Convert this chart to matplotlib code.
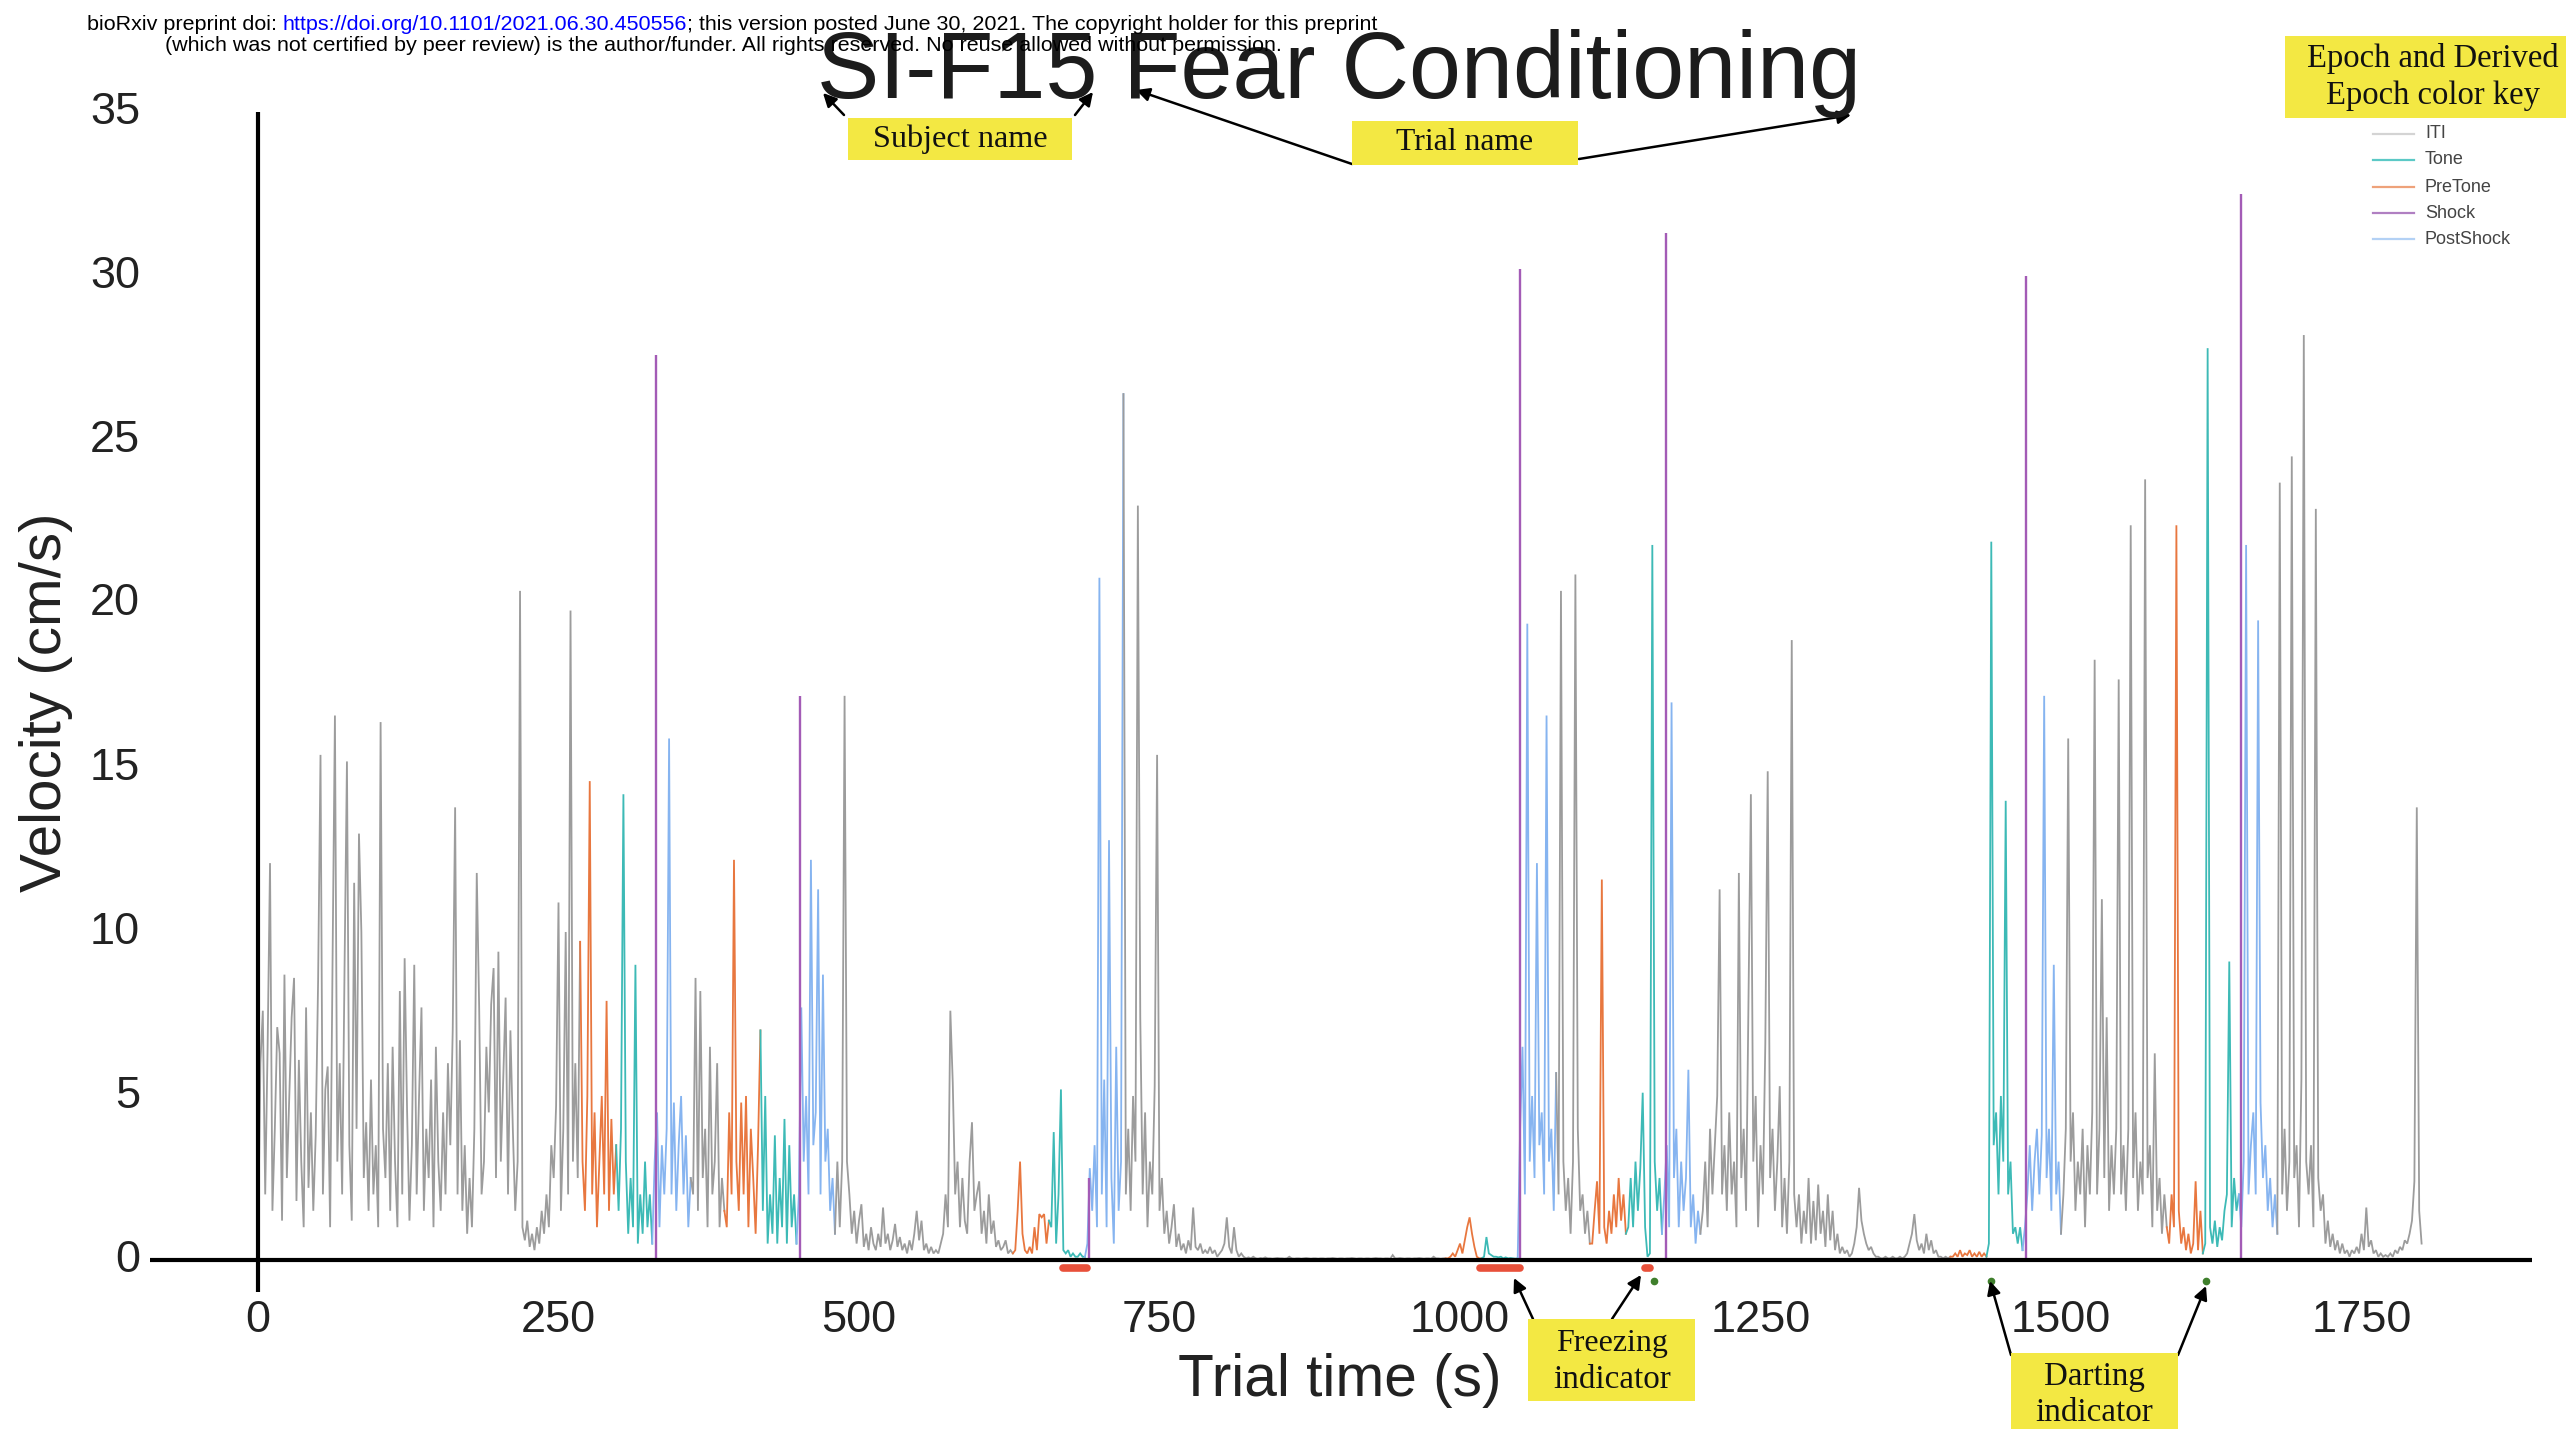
import numpy as np
import matplotlib
matplotlib.use("Agg")
import matplotlib.pyplot as plt
from matplotlib.patches import Rectangle
from matplotlib.lines import Line2D

# ---------------------------------------------------------------------------
# Data: velocity (cm/s) sampled every 2 s, one list per epoch
# ---------------------------------------------------------------------------
SAMPLE_STEP_S = 2

iti_1 = [0.5, 6.0, 7.6, 2.0, 6.5, 12.1, 1.5, 4.0, 7.1, 6.3, 1.2, 8.7, 2.5, 5.0, 7.4,
         8.6, 1.8, 6.1, 3.0, 1.0, 7.7, 2.2, 4.5, 1.5, 3.8, 8.5, 15.4, 2.0, 5.2, 5.9,
         1.0, 9.0, 16.6, 3.0, 6.0, 2.0, 8.9, 15.2, 3.5, 1.2, 11.5, 4.0, 13.0, 10.0, 2.5,
         4.2, 1.5, 5.5, 2.0, 3.5, 1.0, 16.4, 4.0, 2.5, 6.0, 1.5, 6.5, 3.0, 1.0, 8.2,
         2.0, 9.2, 4.6, 1.2, 3.5, 9.0, 2.0, 5.0, 7.7, 1.5, 4.0, 2.5, 5.5, 1.0, 6.5,
         3.0, 1.5, 4.5, 2.0, 6.0, 3.5, 7.0, 13.8, 2.0, 6.7, 1.5, 3.5, 0.8, 2.5, 1.0,
         4.0, 11.8, 7.7, 2.0, 3.0, 6.5, 4.5, 7.8, 8.9, 2.5, 9.4, 3.0, 5.5, 8.0, 2.0,
         7.0, 4.0, 1.5, 3.0, 20.4, 1.0, 0.6, 1.2, 0.4, 0.8, 0.3, 1.0, 0.5, 1.5, 0.8,
         2.0, 1.0, 3.5, 2.5, 4.7, 10.9, 1.5, 4.0, 10.0, 2.0, 19.8, 3.0, 6.0, 2.5, 9.7]
pretone_1 = [3.0, 1.5, 5.0, 14.6, 2.0, 4.5, 1.0, 3.0, 5.0, 2.0, 7.9, 1.5, 4.3, 2.0, 3.5]
tone_1 = [1.5, 4.0, 14.2, 3.0, 0.8, 2.5, 1.0, 9.0, 0.5, 2.0, 0.8, 3.0, 1.0, 2.0, 0.5]
postshock_1 = [3.0, 4.5, 1.0, 3.5, 2.0, 4.0, 15.9, 2.0, 4.8, 1.5, 3.5, 5.0, 2.0, 3.8, 1.0, 2.5]
iti_2 = [2.0, 8.6, 1.5, 8.2, 2.5, 4.0, 1.0, 6.5, 2.0, 3.0, 6.0, 1.0, 2.5, 1.5]
pretone_2 = [1.0, 4.5, 2.0, 12.2, 3.0, 1.5, 4.8, 2.0, 5.0, 1.0, 4.0, 2.5, 0.8, 3.5, 7.0]
tone_2 = [1.5, 5.0, 0.5, 2.0, 0.8, 3.8, 0.5, 2.5, 1.0, 4.3, 0.5, 3.5, 1.0, 2.0, 0.5]
postshock_2 = [2.0, 7.7, 3.0, 5.0, 2.0, 12.2, 3.5, 4.5, 11.3, 2.0, 8.7, 3.0, 4.0, 1.5, 2.5, 0.8]
iti_3 = [3.0, 1.0, 3.0, 17.2, 3.0, 2.0, 0.8, 1.5, 0.5, 1.2,
         1.7, 0.4, 0.8, 0.3, 1.0, 0.5, 0.3, 0.8, 0.4, 1.6,
         0.5, 0.8, 0.3, 0.6, 1.1, 0.4, 0.7, 0.3, 0.5, 0.2,
         0.6, 0.3, 0.8, 1.5, 0.6, 1.2, 0.3, 0.5, 0.2, 0.4,
         0.2, 0.3, 0.2, 0.5, 0.8, 2.0, 1.0, 7.6, 5.4, 2.0,
         3.0, 1.0, 2.5, 1.2, 0.8, 3.0, 4.2, 1.5, 2.0, 2.4,
         0.8, 1.5, 0.5, 2.0, 0.8, 1.2, 0.4, 0.6, 0.3, 0.4,
         0.6, 0.2, 0.3, 0.2]
pretone_3 = [0.3, 1.5, 3.0, 0.8, 0.3, 0.2, 0.4, 0.2, 1.0, 0.3, 1.4, 1.3, 1.4, 0.5, 1.2]
tone_3 = [1.0, 3.9, 0.5, 2.0, 5.2, 0.3, 0.2, 0.3, 0.1, 0.2, 0.1, 0.1, 0.2, 0.1, 0.1]
postshock_3 = [0.5, 2.8, 1.5, 3.5, 1.0, 20.8, 2.0, 5.5, 1.0, 12.8, 2.5, 0.5, 6.5, 1.5, 3.0, 26.4]
iti_4 = [2.0, 4.0, 1.5, 5.0, 3.0, 23.0, 7.4, 2.0, 4.5, 1.0,
         3.0, 2.0, 5.3, 15.4, 1.5, 2.5, 0.8, 1.5, 0.5, 1.0,
         1.7, 0.4, 0.8, 0.3, 0.5, 0.2, 0.6, 0.3, 1.6, 0.4,
         0.3, 0.5, 0.2, 0.3, 0.2, 0.4, 0.2, 0.3, 0.1, 0.2,
         0.3, 0.5, 1.3, 0.4, 0.2, 1.0, 0.3, 0.1, 0.2, 0.1,
         0.05, 0.08, 0.05, 0.1, 0.05, 0.04, 0.06, 0.05, 0.08, 0.05,
         0.05, 0.04, 0.05, 0.06, 0.05, 0.05, 0.04, 0.05, 0.1, 0.05,
         0.04, 0.05, 0.05, 0.04, 0.05, 0.06, 0.05, 0.04, 0.05, 0.05,
         0.04, 0.05, 0.05, 0.04, 0.05, 0.05, 0.06, 0.05, 0.04, 0.05,
         0.05, 0.04, 0.05, 0.05, 0.06, 0.05, 0.04, 0.05, 0.05, 0.04,
         0.05, 0.05, 0.04, 0.05, 0.06, 0.05, 0.05, 0.04, 0.05, 0.05,
         0.04, 0.15, 0.05, 0.05, 0.06, 0.05, 0.04, 0.05, 0.05, 0.04,
         0.05, 0.05, 0.06, 0.05, 0.04, 0.05, 0.05, 0.04, 0.1, 0.05,
         0.05, 0.04, 0.05, 0.05]
pretone_4 = [0.05, 0.1, 0.2, 0.1, 0.3, 0.5, 0.2, 0.6, 1.0, 1.3, 0.8, 0.4, 0.1, 0.05, 0.05]
tone_4 = [0.1, 0.7, 0.2, 0.15, 0.1, 0.1, 0.08, 0.1, 0.05, 0.08, 0.05, 0.06, 0.05, 0.04, 0.05]
postshock_4 = [4.0, 6.5, 2.0, 19.4, 3.0, 5.0, 2.5, 12.1, 3.5, 4.5, 2.0, 16.6, 3.0, 4.0, 1.5, 5.7]
iti_5 = [2.0, 20.4, 3.0, 1.5, 2.5, 0.8, 3.0, 20.9, 4.0, 1.5, 2.0, 0.8, 1.5, 0.5]
pretone_5 = [0.5, 1.5, 2.4, 0.8, 11.6, 1.0, 0.5, 1.5, 0.8, 2.0, 1.0, 2.5, 1.2, 2.0, 0.8]
tone_5 = [1.0, 2.5, 1.0, 3.0, 1.5, 2.8, 5.1, 1.0, 0.1, 0.2, 21.8, 3.0, 1.5, 2.5, 0.8]
postshock_5 = [2.0, 3.5, 1.0, 17.0, 2.5, 4.0, 1.0, 3.0, 1.5, 2.5, 5.8, 1.0, 2.0, 0.5, 1.5, 0.8]
iti_6 = [1.5, 3.0, 1.0, 4.0, 2.0, 3.5, 5.0, 11.3, 2.0, 3.5,
         1.5, 4.5, 2.0, 3.0, 1.0, 11.8, 2.5, 4.0, 1.5, 7.9,
         14.2, 3.0, 5.0, 1.0, 3.5, 2.0, 6.6, 14.9, 2.5, 4.0,
         1.5, 3.0, 5.3, 1.0, 2.5, 0.8, 3.0, 18.9, 2.0, 1.0,
         2.0, 0.5, 1.5, 0.8, 2.5, 0.5, 1.8, 0.6, 2.3, 0.8,
         1.5, 0.4, 2.0, 0.6, 1.5, 0.3, 0.8, 0.2, 0.4, 0.2,
         0.3, 0.1, 0.2, 0.5, 1.0, 2.2, 1.2, 0.8, 0.5, 0.3,
         0.4, 0.2, 0.1, 0.1, 0.05, 0.05, 0.1, 0.05, 0.05, 0.1,
         0.05, 0.05, 0.1, 0.05, 0.1, 0.2, 0.5, 0.8, 1.4, 0.6,
         0.3, 0.5, 0.2, 0.8, 0.3, 0.6, 0.2, 0.3, 0.1, 0.1,
         0.05, 0.1, 0.05, 0.1]
pretone_6 = [0.1, 0.2, 0.1, 0.3, 0.1, 0.2, 0.15, 0.3, 0.1, 0.2, 0.1, 0.25, 0.1, 0.2, 0.1]
tone_6 = [0.5, 21.9, 3.5, 4.5, 2.0, 5.0, 3.0, 14.0, 2.0, 3.0, 0.8, 1.0, 0.5, 1.0, 0.3]
postshock_6 = [1.0, 2.0, 3.5, 1.5, 3.0, 4.0, 2.0, 3.8, 17.2, 2.5, 4.0, 1.5, 9.0, 2.0, 3.0, 0.8]
iti_7 = [2.0, 4.0, 15.9, 3.0, 4.5, 1.5, 3.0, 2.0, 4.0, 1.0,
         3.5, 2.0, 4.5, 18.3, 2.0, 4.0, 11.0, 2.5, 7.4, 1.5,
         3.5, 2.0, 4.0, 17.7, 2.0, 3.5, 1.5, 4.0, 22.4, 2.5,
         4.5, 1.5, 3.0, 2.0, 23.8, 2.5, 3.5, 1.0, 6.3, 1.5,
         2.5, 0.8, 2.0, 1.0]
pretone_7 = [0.5, 2.0, 1.0, 22.4, 1.5, 0.5, 1.0, 0.3, 0.8, 0.2, 0.5, 2.4, 0.3, 1.5, 0.2]
tone_7 = [0.5, 27.8, 1.0, 0.5, 1.2, 0.4, 1.0, 0.6, 1.5, 2.0, 9.1, 1.0, 2.5, 1.5, 2.0]
postshock_7 = [1.0, 3.0, 21.8, 2.0, 3.5, 4.5, 2.0, 19.5, 4.8, 2.5, 3.5, 1.5, 2.5, 1.0, 2.0, 0.8]
iti_8 = [23.7, 2.0, 4.0, 1.5, 3.0, 24.5, 2.5, 3.5, 1.0, 5.5,
         28.2, 3.0, 2.0, 3.5, 1.0, 22.9, 2.5, 1.5, 2.0, 0.5,
         1.2, 0.4, 0.8, 0.3, 0.6, 0.2, 0.5, 0.2, 0.3, 0.1,
         0.3, 0.2, 0.4, 0.2, 0.8, 0.3, 1.6, 0.4, 0.6, 0.2,
         0.3, 0.1, 0.2, 0.1, 0.15, 0.1, 0.2, 0.1, 0.3, 0.2,
         0.4, 0.3, 0.6, 0.5, 0.8, 1.2, 2.4, 13.8, 1.5, 0.5]

epoch_label = ["ITI",
               "PreTone", "Tone", "PostShock", "ITI",
               "PreTone", "Tone", "PostShock", "ITI",
               "PreTone", "Tone", "PostShock", "ITI",
               "PreTone", "Tone", "PostShock", "ITI",
               "PreTone", "Tone", "PostShock", "ITI",
               "PreTone", "Tone", "PostShock", "ITI",
               "PreTone", "Tone", "PostShock", "ITI"]
epoch_start_s = [0,
                 270, 300, 330, 362,
                 390, 420, 450, 482,
                 630, 660, 690, 722,
                 990, 1020, 1050, 1082,
                 1110, 1140, 1170, 1202,
                 1410, 1440, 1470, 1502,
                 1590, 1620, 1650, 1682]
epoch_velocity = [iti_1,
                  pretone_1, tone_1, postshock_1, iti_2,
                  pretone_2, tone_2, postshock_2, iti_3,
                  pretone_3, tone_3, postshock_3, iti_4,
                  pretone_4, tone_4, postshock_4, iti_5,
                  pretone_5, tone_5, postshock_5, iti_6,
                  pretone_6, tone_6, postshock_6, iti_7,
                  pretone_7, tone_7, postshock_7, iti_8]

# Shock deliveries (s) and peak velocity during shock (cm/s)
shock_time_s = [331, 451, 691, 1050, 1171, 1471, 1650]
shock_peak = [27.6, 17.2, 2.5, 30.2, 31.3, 30.0, 32.5]

# Behaviour indicators
freeze_start_s = [670, 1017, 1154]
freeze_end_s = [690, 1050, 1158]
dart_time_s = [1161, 1442, 1621]

legend_order = ["ITI", "Tone", "PreTone", "Shock", "PostShock"]
x_ticks = [0, 250, 500, 750, 1000, 1250, 1500, 1750]
y_ticks = [0, 5, 10, 15, 20, 25, 30, 35]

epoch_color = {
    "ITI": "#9c9c9c",
    "Tone": "#3dbab6",
    "PreTone": "#e8773f",
    "Shock": "#a35bb6",
    "PostShock": "#86b4f0",
}
legend_color = {
    "ITI": "#d4d4d4",
    "Tone": "#5cc9c6",
    "PreTone": "#eea27a",
    "Shock": "#b07fc2",
    "PostShock": "#b3d1f5",
}

# ---------------------------------------------------------------------------
# Figure / coordinate setup (axes fills the whole canvas)
# ---------------------------------------------------------------------------
W, H = 2566, 1429
X0, XS = 258.0, 1.202     # pixel of t=0, pixels per second
Y0, YS = 1260.0, 32.8     # pixel of v=0, pixels per cm/s

SANS = "Liberation Sans"
SERIF = "Liberation Serif"

fig = plt.figure(figsize=(W / 100, H / 100), dpi=100)
fig.patch.set_facecolor("white")
ax = fig.add_axes([0, 0, 1, 1])
ax.set_xlim(-X0 / XS, (W - X0) / XS)
ax.set_ylim((Y0 - H) / YS, Y0 / YS)
ax.axis("off")
renderer = fig.canvas.get_renderer()


def fx(x):
    return x / W


def fy(y):
    return 1 - y / H


def fit_text(x, y, s, width, size0=20.0, **kw):
    t = fig.text(fx(x), fy(y), s, fontsize=size0, **kw)
    bb = t.get_window_extent(renderer=renderer)
    span = bb.height if kw.get("rotation", 0) == 90 else bb.width
    t.set_fontsize(size0 * width / span)
    return t


# ---------------------------------------------------------------------------
# Velocity trace coloured by epoch
# ---------------------------------------------------------------------------
prev_t, prev_v = None, None
for label, start, vals in zip(epoch_label, epoch_start_s, epoch_velocity):
    t = start + SAMPLE_STEP_S * np.arange(len(vals))
    v = np.asarray(vals, dtype=float)
    if prev_t is not None:
        t = np.concatenate([[prev_t], t])
        v = np.concatenate([[prev_v], v])
    ax.plot(t, v, color=epoch_color[label], lw=1.3, solid_joinstyle="miter", zorder=2)
    prev_t, prev_v = t[-1], v[-1]

ax.vlines(shock_time_s, 0, shock_peak, color=epoch_color["Shock"], lw=1.7, zorder=3)

# Freezing bars and darting dots under the axis
for s, e in zip(freeze_start_s, freeze_end_s):
    ax.plot([s, e], [-0.25, -0.25], color="#e8503a", lw=5.5,
            solid_capstyle="round", zorder=4)
ax.plot(dart_time_s, [-0.64] * len(dart_time_s), "o", color="#3f7f2c",
        ms=4.5, zorder=4)

# Axis lines
ax.plot([-90, 1892], [0, 0], color="black", lw=3.0, zorder=5, solid_capstyle="butt")
ax.plot([0, 0], [-0.98, 35], color="black", lw=3.0, zorder=5, solid_capstyle="butt")

# Tick labels
for yt in y_ticks:
    fig.text(fx(140), fy(Y0 - YS * yt), str(yt), ha="right", va="center",
             fontsize=32.5, family=SANS, color="#222222")
for xt in x_ticks:
    fig.text(fx(X0 + XS * xt), fy(1320), str(xt), ha="center", va="center",
             fontsize=32.5, family=SANS, color="#222222")

# Axis titles
fit_text(46, 702, "Velocity (cm/s)", 380, rotation=90, ha="center", va="center",
         family=SANS, color="#222222")
fit_text(1340, 1380, "Trial time (s)", 324, ha="center", va="center",
         family=SANS, color="#222222")

# Plot title
fit_text(1339, 98, "SI-F15 Fear Conditioning", 1043, ha="center", va="baseline",
         family=SANS, color="#1c1c1c", zorder=6)

# ---------------------------------------------------------------------------
# Preprint header
# ---------------------------------------------------------------------------
hdr_parts = [("bioRxiv preprint doi: ", "black"),
             ("https://doi.org/10.1101/2021.06.30.450556", "blue"),
             ("; this version posted June 30, 2021. The copyright holder for this preprint",
              "black")]
probe = fig.text(0, 0, "".join(p for p, _ in hdr_parts), fontsize=13, family=SANS)
hdr_size = 13 * 1284 / probe.get_window_extent(renderer=renderer).width
probe.remove()
x_cursor = 87
for part, col in hdr_parts:
    t = fig.text(fx(x_cursor), fy(30), part, fontsize=hdr_size, family=SANS,
                 color=col, ha="left", va="baseline", zorder=10)
    x_cursor += t.get_window_extent(renderer=renderer).width
fig.text(fx(723), fy(51),
         "(which was not certified by peer review) is the author/funder. "
         "All rights reserved. No reuse allowed without permission.",
         fontsize=hdr_size, family=SANS, ha="center", va="baseline", zorder=10)

# ---------------------------------------------------------------------------
# Legend
# ---------------------------------------------------------------------------
legend_rows_y = [134, 160, 187, 213, 239]
for name, yy in zip(legend_order, legend_rows_y):
    fig.add_artist(Line2D([fx(2373), fx(2414)], [fy(yy), fy(yy)],
                          color=legend_color[name], lw=1.6))
    fig.text(fx(2425), fy(yy), name, fontsize=13, family=SANS, color="#444444",
             ha="left", va="center")

# ---------------------------------------------------------------------------
# Yellow callouts and arrows
# ---------------------------------------------------------------------------
YELLOW = "#f3e843"


def callout(x0, y0, x1, y1, lines):
    fig.add_artist(Rectangle((fx(x0), fy(y1)), (x1 - x0) / W, (y1 - y0) / H,
                             transform=fig.transFigure, facecolor=YELLOW,
                             edgecolor="none", zorder=8))
    for s, cx, cy, wpx in lines:
        fit_text(cx, cy, s, wpx, ha="center", va="center", family=SERIF,
                 color="#111111", zorder=9)


callout(848, 118, 1072, 160, [("Subject name", 960, 139, 175)])
callout(1352, 121, 1578, 165, [("Trial name", 1465, 143, 137)])
callout(2285, 36, 2566, 118, [("Epoch and Derived", 2433, 58, 252),
                              ("Epoch color key", 2433, 96, 213)])
callout(1528, 1319, 1695, 1401, [("Freezing", 1612, 1343, 112),
                                 ("indicator", 1612, 1380, 118)])
callout(2011, 1353, 2178, 1440, [("Darting", 2094, 1377, 101),
                                 ("indicator", 2094, 1413, 118)])

arrows = [((844, 115), (823, 93)), ((1075, 115), (1093, 92)),
          ((1352, 164), (1136, 90)), ((1579, 159), (1851, 115)),
          ((1533, 1319), (1514, 1278)), ((1612, 1319), (1641, 1275)),
          ((2011, 1355), (1990, 1281)), ((2178, 1355), (2206, 1286))]
for (tx, ty), (hx, hy) in arrows:
    ax.annotate("", xy=(fx(hx), fy(hy)), xytext=(fx(tx), fy(ty)),
                xycoords="figure fraction", textcoords="figure fraction",
                arrowprops=dict(arrowstyle="-|>", color="black", lw=1.8,
                                mutation_scale=20, shrinkA=0, shrinkB=0),
                zorder=9)

fig.savefig("out.png", dpi=100)
